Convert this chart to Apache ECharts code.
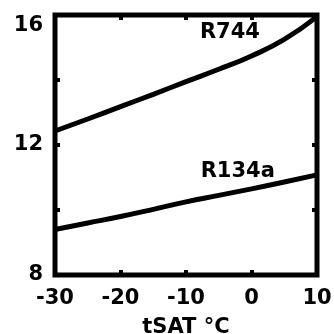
<!doctype html>
<html>
<head>
<meta charset="UTF-8">
<script src="https://cdn.jsdelivr.net/npm/echarts@6/dist/echarts.min.js"></script>
<style>
  html, body { margin: 0; padding: 0; background: #fff; }
  #chart { width: 334px; height: 334px; }
</style>
</head>
<body>
<div id="chart"></div>
<script>
  // temperatures along x
  var tSat = [-30, -25, -20, -15, -10, -5, 0, 5, 10];
  var r744 = [12.43, 12.8, 13.18, 13.56, 13.95, 14.33, 14.74, 15.25, 15.95];
  var r134a = [9.4, 9.6, 9.8, 10.02, 10.25, 10.45, 10.65, 10.86, 11.08];
  var yLabels = [8, 12, 16];

  function pairs(ys) {
    return tSat.map(function (t, i) { return [t, ys[i]]; });
  }

  var font = 'DejaVu Sans';
  var txt = { fontFamily: font, fontWeight: 'bold', fontSize: 21, color: '#000' };
  var tickStyle = { show: true, inside: true, length: 5, lineStyle: { color: '#000', width: 4 } };
  var hiddenLine = { show: false, onZero: false };

  var chart = echarts.init(document.getElementById('chart'));
  chart.setOption({
    animation: false,
    grid: {
      left: 55, right: 17, top: 15, bottom: 59,
      outerBoundsMode: 'none', containLabel: false,
      show: true, borderColor: '#000', borderWidth: 5, backgroundColor: 'transparent'
    },
    xAxis: [{
      type: 'value', min: -30, max: 10, interval: 10, position: 'bottom',
      name: 'tSAT \u00B0C', nameLocation: 'middle', nameGap: 42,
      nameTextStyle: txt,
      axisLine: hiddenLine,
      axisTick: tickStyle,
      splitLine: { show: false },
      axisLabel: Object.assign({ margin: 13 }, txt)
    }, {
      type: 'value', min: -30, max: 10, interval: 10, position: 'top',
      axisLine: hiddenLine, axisTick: tickStyle, splitLine: { show: false },
      axisLabel: { show: false }
    }],
    yAxis: [{
      type: 'value', min: 8, max: 16, interval: 2, position: 'left',
      axisLine: hiddenLine,
      axisTick: tickStyle,
      splitLine: { show: false },
      axisLabel: Object.assign({
        margin: 12,
        verticalAlignMaxLabel: 'top',
        formatter: function (v) { return yLabels.indexOf(v) >= 0 ? String(v) : ''; }
      }, txt)
    }, {
      type: 'value', min: 8, max: 16, interval: 2, position: 'right',
      axisLine: hiddenLine, axisTick: tickStyle, splitLine: { show: false },
      axisLabel: { show: false }
    }],
    series: [{
      name: 'R744', type: 'line', smooth: true, showSymbol: false,
      data: pairs(r744),
      lineStyle: { color: '#000', width: 5 },
      markPoint: {
        symbolSize: 0,
        label: Object.assign({ show: true, formatter: 'R744' }, txt),
        data: [{ coord: [-3.3, 15.45] }]
      }
    }, {
      name: 'R134a', type: 'line', smooth: true, showSymbol: false,
      data: pairs(r134a),
      lineStyle: { color: '#000', width: 5 },
      markPoint: {
        symbolSize: 0,
        label: Object.assign({ show: true, formatter: 'R134a' }, txt),
        data: [{ coord: [-2.1, 11.17] }]
      }
    }]
  });
</script>
</body>
</html>
